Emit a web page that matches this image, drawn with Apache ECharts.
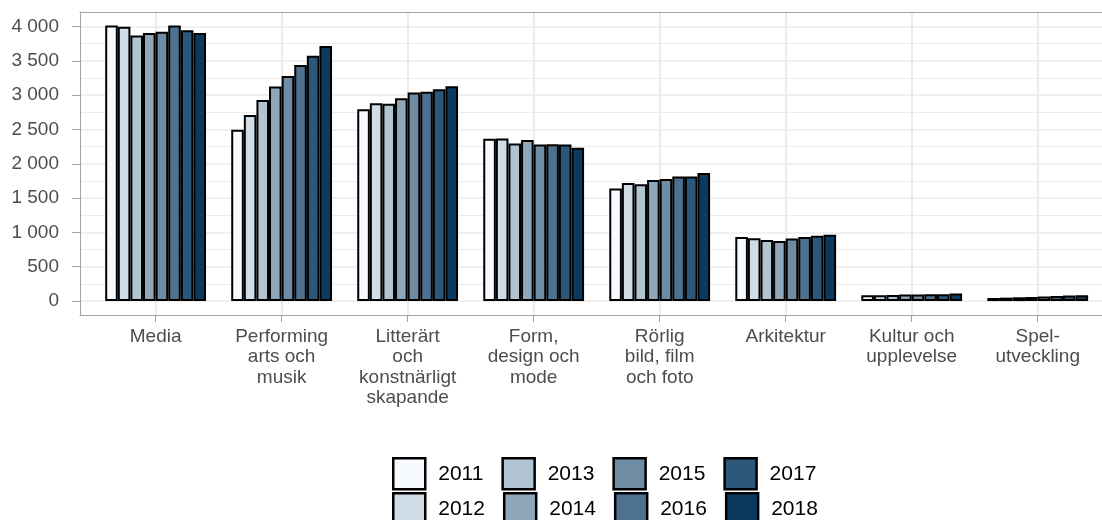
<!DOCTYPE html>
<html>
<head>
<meta charset="utf-8">
<script src="https://cdn.jsdelivr.net/npm/echarts@6/dist/echarts.min.js"></script>
<style>html,body{margin:0;padding:0;background:#fff}#c{width:1102px;height:520px}</style>
</head>
<body>
<div id="c"></div>
<script>
const categories = ['Media', 'Performing\narts och\nmusik', 'Litterärt\noch\nkonstnärligt\nskapande', 'Form,\ndesign och\nmode', 'Rörlig\nbild, film\noch foto', 'Arkitektur', 'Kultur och\nupplevelse', 'Spel-\nutveckling'];
const years = ['2011', '2012', '2013', '2014', '2015', '2016', '2017', '2018'];
const v2011 = [4015, 2495, 2795, 2365, 1640, 935, 85, 45];
const v2012 = [3995, 2710, 2880, 2370, 1720, 915, 85, 50];
const v2013 = [3870, 2930, 2875, 2295, 1700, 890, 90, 55];
const v2014 = [3905, 3125, 2955, 2345, 1765, 875, 95, 60];
const v2015 = [3925, 3280, 3040, 2280, 1780, 910, 95, 65];
const v2016 = [4015, 3440, 3050, 2285, 1815, 935, 100, 75];
const v2017 = [3945, 3575, 3085, 2280, 1815, 950, 100, 80];
const v2018 = [3905, 3715, 3130, 2235, 1865, 965, 110, 85];
const yTicks = [0, 500, 1000, 1500, 2000, 2500, 3000, 3500, 4000];
const yMinor = [250, 750, 1250, 1750, 2250, 2750, 3250, 3750, 4250];
const colors = ['#f7fbff', '#d0dde7', '#b0c4d2', '#8fa7bb', '#6e8ca4', '#4d718f', '#2c5778', '#0a3a5f'];

const allValues = [v2011, v2012, v2013, v2014, v2015, v2016, v2017, v2018];
const catPos = categories.map((c, i) => i + 1);
const FONT = 'Liberation Sans, Arial, sans-serif';
const GRID_C = '#ebebeb';
const AXIS_C = '#a3a3a3';

const series = years.map((y, k) => ({
  name: y,
  type: 'bar',
  xAxisIndex: 0,
  yAxisIndex: 0,
  barGap: 0,
  barCategoryGap: '20%',
  itemStyle: { color: colors[k], borderColor: '#000', borderWidth: 2 },
  data: allValues[k].map((v, i) => [catPos[i], v])
}));

const legendBase = {
  orient: 'horizontal',
  icon: 'rect',
  itemWidth: 32,
  itemHeight: 31,
  itemGap: 18,
  left: 392,
  padding: 0,
  selectedMode: false,
  itemStyle: { borderColor: '#000', borderWidth: 2.5 },
  textStyle: { fontFamily: FONT, fontSize: 21, color: '#000', padding: [0, 0, 0, 8] }
};

const chart = echarts.init(document.getElementById('c'), null, { renderer: 'canvas' });
chart.setOption({
  animation: false,
  backgroundColor: '#fff',
  grid: { left: 80, right: 0, top: 12, bottom: 205, containLabel: false },
  legend: [
    Object.assign({}, legendBase, { top: 457, data: [years[0], years[2], years[4], years[6]] }),
    Object.assign({}, legendBase, { top: 492, data: [years[1], years[3], years[5], years[7]] })
  ],
  xAxis: [
    {
      type: 'value', min: 0.4, max: 8.51, position: 'bottom',
      axisLine: { show: true, onZero: false, lineStyle: { color: AXIS_C, width: 1 } },
      axisTick: { show: true, length: 7, customValues: catPos, lineStyle: { color: AXIS_C } },
      axisLabel: {
        customValues: catPos, margin: 11.5, fontFamily: FONT, fontSize: 19, color: '#4d4d4d',
        lineHeight: 20.5, align: 'center', verticalAlign: 'top',
        formatter: v => categories[Math.round(v) - 1] || ''
      },
      splitLine: { show: true, lineStyle: { color: GRID_C, width: 2 } }
    },
    {
      type: 'value', min: 0.4, max: 8.51, position: 'top',
      axisLine: { show: true, onZero: false, lineStyle: { color: AXIS_C, width: 1 } },
      axisTick: { show: false }, axisLabel: { show: false }, splitLine: { show: false }
    }
  ],
  yAxis: [
    {
      type: 'value', min: -203, max: 4211, position: 'left',
      axisLine: { show: true, onZero: false, lineStyle: { color: AXIS_C, width: 1 } },
      axisTick: { show: true, length: 8, customValues: yTicks, lineStyle: { color: AXIS_C } },
      axisLabel: {
        customValues: yTicks, margin: 21, fontFamily: FONT, fontSize: 19, color: '#4d4d4d',
        formatter: v => String(v).replace(/\B(?=(\d{3})+(?!\d))/g, ' ')
      },
      splitLine: { show: true, lineStyle: { color: GRID_C, width: 1.6 } }
    },
    {
      type: 'value', min: -203, max: 4211, position: 'left',
      axisLine: { show: false, onZero: false },
      axisTick: { show: false, customValues: yMinor },
      axisLabel: { show: false, customValues: yMinor },
      splitLine: { show: true, lineStyle: { color: GRID_C, width: 1.2 } }
    }
  ],
  series: series
});
</script>
</body>
</html>
